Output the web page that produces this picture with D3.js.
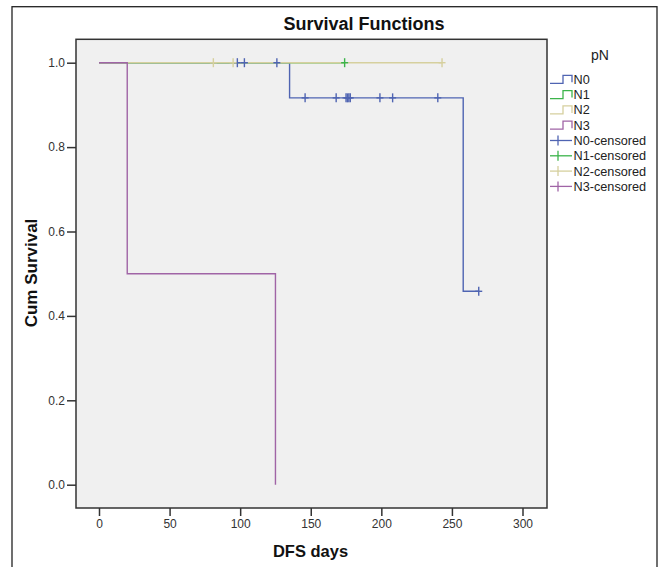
<!DOCTYPE html>
<html>
<head>
<meta charset="utf-8">
<script src="https://cdn.jsdelivr.net/npm/d3@7"></script>
<style>
  html, body { margin: 0; padding: 0; background: #fff; }
  svg { display: block; font-family: "Liberation Sans", Arial, sans-serif; }
</style>
</head>
<body>
<svg id="chart" width="661" height="567"></svg>
<script>
// ---- data ----
const groupNames = ["N0", "N1", "N2", "N3"];
const legendLabels = ["N0", "N1", "N2", "N3", "N0-censored", "N1-censored", "N2-censored", "N3-censored"];
const groupColors = ["#4f64b2", "#3cb44b", "#d6d09e", "#a064a6"];

// step curves: time points and survival values
const n0Times = [0, 135, 258, 269];
const n0Surv  = [1, 0.9167, 0.4583, 0.4583];
const n1Times = [0, 174];
const n1Surv  = [1, 1];
const n2Times = [0, 243];
const n2Surv  = [1, 1];
const n3Times = [0, 20, 125, 125];
const n3Surv  = [1, 0.5, 0, 0];

// censored observations
const n0CensTimes = [98, 103, 126, 146, 168, 175, 176, 177, 178, 199, 208, 240, 269];
const n0CensSurv  = [1, 1, 1, 0.9167, 0.9167, 0.9167, 0.9167, 0.9167, 0.9167, 0.9167, 0.9167, 0.9167, 0.4583];
const n1CensTimes = [174];
const n1CensSurv  = [1];
const n2CensTimes = [81, 95, 243];
const n2CensSurv  = [1, 1, 1];
const n3CensTimes = [];
const n3CensSurv  = [];

const xTicks = [0, 50, 100, 150, 200, 250, 300];
const yTicks = [0, 0.2, 0.4, 0.6, 0.8, 1.0];

const titleText = "Survival Functions";
const xLabel = "DFS days";
const yLabel = "Cum Survival";
const legendTitle = "pN";

// ---- build ----
const curves = [
  {t: n0Times, s: n0Surv, ct: n0CensTimes, cs: n0CensSurv},
  {t: n1Times, s: n1Surv, ct: n1CensTimes, cs: n1CensSurv},
  {t: n2Times, s: n2Surv, ct: n2CensTimes, cs: n2CensSurv},
  {t: n3Times, s: n3Surv, ct: n3CensTimes, cs: n3CensSurv}
];

const svg = d3.select("#chart");
const plot = {left: 76, top: 39.3, right: 547, bottom: 508};

const x = d3.scaleLinear().domain([0, 300]).range([99, 522.5]);
const y = d3.scaleLinear().domain([0, 1]).range([484.7, 62.7]);

// outer frame
svg.append("rect")
  .attr("x", 12).attr("y", 6.7).attr("width", 645).attr("height", 620)
  .attr("fill", "none").attr("stroke", "#222").attr("stroke-width", 1.3);

// title
svg.append("text")
  .attr("x", 364).attr("y", 30)
  .attr("text-anchor", "middle")
  .attr("font-size", "18px").attr("font-weight", "bold").attr("fill", "#111")
  .text(titleText);

// plot background
svg.append("rect")
  .attr("x", plot.left).attr("y", plot.top)
  .attr("width", plot.right - plot.left).attr("height", plot.bottom - plot.top)
  .attr("fill", "#f0f0f0");

// lines
const line = d3.line()
  .x((d) => x(d[0])).y((d) => y(d[1]))
  .curve(d3.curveStepAfter);

curves.forEach((c, i) => {
  const pts = c.t.map((t, k) => [t, c.s[k]]);
  svg.append("path")
    .attr("d", line(pts))
    .attr("fill", "none")
    .attr("stroke", groupColors[i])
    .attr("stroke-width", 1.4);
});

// censor marks
curves.forEach((c, i) => {
  const g = svg.append("g").attr("stroke", groupColors[i]).attr("stroke-width", 1.4);
  c.ct.forEach((t, k) => {
    const cx = x(t), cy = y(c.cs[k]);
    g.append("line").attr("x1", cx).attr("x2", cx).attr("y1", cy - 4.5).attr("y2", cy + 4.5);
    g.append("line").attr("x1", cx - 3.5).attr("x2", cx + 3.5).attr("y1", cy).attr("y2", cy);
  });
});

// plot border
svg.append("rect")
  .attr("x", plot.left).attr("y", plot.top)
  .attr("width", plot.right - plot.left).attr("height", plot.bottom - plot.top)
  .attr("fill", "none").attr("stroke", "#333").attr("stroke-width", 1.5);

// axes
const xAxis = d3.axisBottom(x).tickValues(xTicks).tickSize(8).tickPadding(3);
const gx = svg.append("g").attr("transform", `translate(0,${plot.bottom})`).call(xAxis);
gx.select(".domain").remove();
gx.selectAll("line").attr("stroke", "#333").attr("stroke-width", 1.5);
gx.selectAll("text").attr("font-size", "12px").attr("fill", "#333")
  .attr("font-family", "'Liberation Sans', Arial, sans-serif");

const yAxis = d3.axisLeft(y).tickValues(yTicks).tickFormat(d3.format(".1f")).tickSize(9).tickPadding(2);
const gy = svg.append("g").attr("transform", `translate(${plot.left},0)`).call(yAxis);
gy.select(".domain").remove();
gy.selectAll("line").attr("stroke", "#333").attr("stroke-width", 1.5);
gy.selectAll("text").attr("font-size", "12px").attr("fill", "#333")
  .attr("font-family", "'Liberation Sans', Arial, sans-serif");

// axis titles
svg.append("text")
  .attr("x", 310.5).attr("y", 557)
  .attr("text-anchor", "middle")
  .attr("font-size", "16.5px").attr("font-weight", "bold").attr("fill", "#111")
  .text(xLabel);

svg.append("text")
  .attr("transform", "translate(36.5,273) rotate(-90)")
  .attr("text-anchor", "middle")
  .attr("font-size", "17px").attr("font-weight", "bold").attr("fill", "#111")
  .text(yLabel);

// legend
svg.append("text")
  .attr("x", 600).attr("y", 60)
  .attr("text-anchor", "middle")
  .attr("font-size", "14px").attr("fill", "#222")
  .text(legendTitle);

const leg = svg.append("g");
legendLabels.forEach((lab, i) => {
  const ly = 79.3 + i * 15.3;
  const col = groupColors[i % 4];
  if (i < 4) {
    leg.append("path")
      .attr("d", `M550,${ly + 4}H563V${ly - 4}H572V${ly + 3}`)
      .attr("fill", "none").attr("stroke", col).attr("stroke-width", 1.3);
  } else {
    leg.append("line").attr("x1", 550).attr("x2", 572).attr("y1", ly).attr("y2", ly)
      .attr("stroke", col).attr("stroke-width", 1.3);
    leg.append("line").attr("x1", 558).attr("x2", 558).attr("y1", ly - 5).attr("y2", ly + 5)
      .attr("stroke", col).attr("stroke-width", 1.3);
  }
  leg.append("text")
    .attr("x", 573.5).attr("y", ly + 4.5)
    .attr("font-size", "12.7px").attr("fill", "#222")
    .text(lab);
});
</script>
</body>
</html>
